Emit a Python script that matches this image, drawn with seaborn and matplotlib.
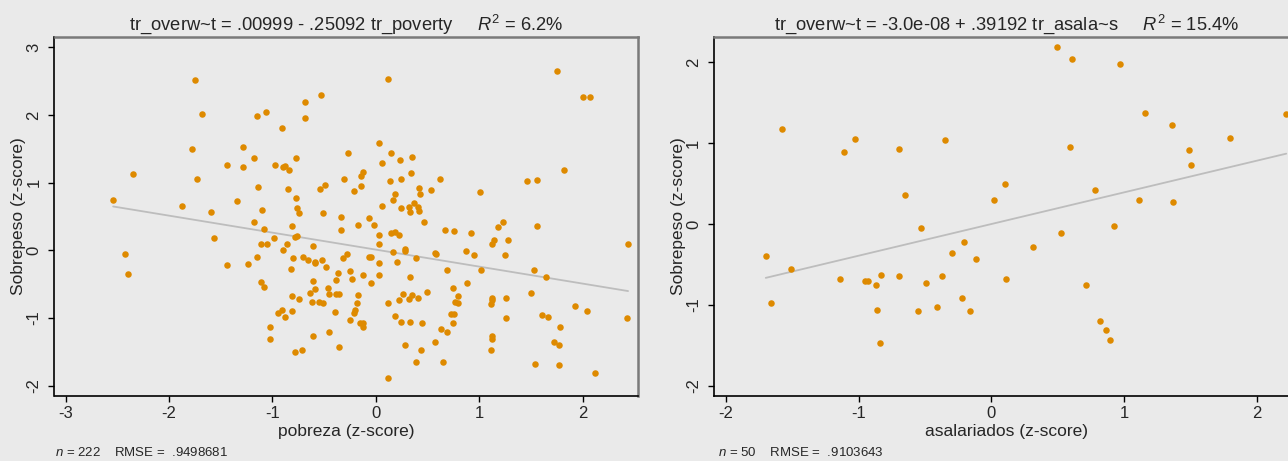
import matplotlib
matplotlib.use("Agg")
import matplotlib.pyplot as plt
import seaborn as sns
import pandas as pd
import numpy as np

# ---------------- data ----------------
pov_x = [-1.75, -0.53, -0.68, -1.68, -1.15, -1.06, -0.68, -0.91, -1.78, -1.28,
         -0.27, -1.18, -0.77, -2.35, -1.44, -1.28, -0.97, -0.90, -0.88, -0.84,
         -1.73, -0.31, -1.14, -0.85, -0.54, -0.49, -0.21, -2.54, -0.77,
         0.12, 1.75, 2.00, 2.07, 0.03, 0.15, 0.23, 0.35, 0.06, -0.12,
         -0.14, 0.34, 0.14, 0.24, 0.62, -0.14, 0.42, 0.53, 0.43, 0.19,
         0.17, 1.01, 1.46, 1.56, 1.82,
         -1.34, -1.87, -0.76, -1.10, -1.59, -0.74, -0.51, -0.34, -0.34, -1.18,
         -1.08, -0.81, -1.56, -0.98, -0.78, -0.76, -1.11, -1.05, -0.86, -0.61,
         -0.90, -0.32, -2.43, -1.15, -0.80, -0.70, -0.66, -0.59, -0.59, -0.52,
         -2.40, -1.44, -1.24, -0.82, -0.48, -0.37, -1.11, -1.08, -0.61, -0.38,
         -0.59, -0.46, -0.64, -0.45, -0.38, -0.36, -0.81, -0.74, -0.62, -0.55,
         -0.51, -0.95, -0.91, -0.88, -0.81, -0.39, -1.02, -1.02, -0.61, -0.45,
         -0.36, -0.78, -0.71,
         0.06, 0.24, 0.32, 0.41, 0.33, 0.42, 0.37, -0.07, -0.17, -0.02,
         0.47, 0.03, 0.15, 0.19, 0.22, 0.67, 0.76, 0.92, 1.18, 1.23,
         1.56, 0.03, 1.12, 1.14, 1.28, -0.28, -0.07, -0.05, 0.17, 0.28,
         0.28, 0.21, 0.03, 0.39, 0.57, 0.58, 0.87, 0.95, 1.25, 2.44,
         -0.25, -0.23, -0.12, 0.03, -0.05, 0.33, 0.69, 1.02, 0.88, 1.53,
         1.65, -0.17, -0.18, -0.20, -0.21, -0.25, -0.15, -0.12, -0.12, 0.26,
         0.35, 0.32, 0.22, 0.41, 0.50, 0.12, 0.19, 0.24, 0.33, 0.45,
         0.75, 0.80, 0.77, 0.80, 0.73, 0.76, 0.75, 0.63, 0.69, 1.12,
         1.12, 1.11, 1.26, 1.26, 1.12, 1.12, 1.11, 1.50, 1.61, 1.67,
         1.78, 1.93, 2.04, 2.43, 1.72, 1.77, 1.54, 1.77, 2.12, 0.28,
         0.44, 0.57, 0.39, 0.65, 0.12]
pov_y = [2.51, 2.29, 2.19, 2.02, 1.98, 2.04, 1.96, 1.81, 1.50, 1.52,
         1.43, 1.36, 1.36, 1.12, 1.26, 1.23, 1.26, 1.23, 1.24, 1.18,
         1.05, 1.06, 0.93, 0.91, 0.91, 0.97, 0.87, 0.75, 0.77,
         2.53, 2.65, 2.27, 2.27, 1.59, 1.43, 1.34, 1.38, 1.29, 1.16,
         1.09, 1.14, 1.03, 1.05, 1.05, 0.95, 0.92, 0.89, 0.83, 0.83,
         0.75, 0.86, 1.03, 1.04, 1.18,
         0.73, 0.66, 0.63, 0.60, 0.57, 0.55, 0.55, 0.49, 0.30, 0.42,
         0.31, 0.36, 0.18, 0.18, 0.19, 0.21, 0.10, 0.10, 0.10, 0.07,
         0.00, -0.12, -0.06, -0.10, -0.12, -0.10, -0.14, -0.17, -0.19, -0.14,
         -0.35, -0.22, -0.20, -0.28, -0.25, -0.34, -0.47, -0.54, -0.45, -0.44,
         -0.57, -0.55, -0.63, -0.65, -0.64, -0.65, -0.68, -0.72, -0.76, -0.76,
         -0.78, -0.92, -0.88, -0.98, -0.90, -0.91, -1.14, -1.31, -1.27, -1.20,
         -1.43, -1.50, -1.47,
         0.66, 0.63, 0.64, 0.64, 0.57, 0.58, 0.70, 0.47, 0.38, 0.38,
         0.42, 0.22, 0.26, 0.27, 0.23, 0.30, 0.29, 0.26, 0.34, 0.42,
         0.36, 0.09, 0.09, 0.15, 0.15, -0.05, -0.10, -0.10, -0.03, 0.02,
         -0.01, -0.18, -0.19, -0.11, -0.04, -0.05, -0.01, -0.07, -0.07, 0.09,
         -0.30, -0.43, -0.36, -0.37, -0.49, -0.39, -0.29, -0.29, -0.48, -0.29,
         -0.39, -0.66, -0.78, -0.88, -0.93, -1.03, -1.08, -1.07, -1.14, -0.64,
         -0.66, -0.72, -0.73, -0.70, -0.62, -0.78, -0.97, -1.06, -1.06, -1.08,
         -0.56, -0.68, -0.76, -0.78, -0.94, -0.94, -1.07, -1.17, -1.20, -0.70,
         -0.73, -0.79, -0.70, -1.00, -1.26, -1.31, -1.48, -0.63, -0.96, -0.98,
         -1.14, -0.82, -0.89, -1.00, -1.36, -1.40, -1.68, -1.70, -1.82, -1.40,
         -1.48, -1.36, -1.65, -1.65, -1.88]

asal_x = [-1.58, -1.03, -1.11, -0.70, -0.35, -0.65,
          0.49, 0.61, 0.97, 1.16, 1.36, 2.22, 1.80, 1.49, 1.50, 0.59,
          0.10, 0.02, 0.78, 1.11, 1.37,
          -0.53, -0.21, -0.30, -0.12, -1.70, -1.51, -1.14, -0.95, -0.93, -0.83,
          -0.87, -0.70, -0.49, -0.37, -0.22, -1.66, -0.86, -0.55, -0.41, -0.16,
          -0.84,
          0.92, 0.52, 0.31, 0.11, 0.71, 0.82, 0.86, 0.89]
asal_y = [1.18, 1.05, 0.89, 0.93, 1.04, 0.36,
          2.19, 2.04, 1.98, 1.37, 1.22, 1.36, 1.06, 0.91, 0.73, 0.95,
          0.49, 0.30, 0.42, 0.30, 0.27,
          -0.05, -0.22, -0.36, -0.43, -0.39, -0.56, -0.68, -0.70, -0.70, -0.63,
          -0.76, -0.64, -0.73, -0.64, -0.91, -0.98, -1.07, -1.08, -1.03, -1.08,
          -1.47,
          -0.02, -0.11, -0.28, -0.68, -0.75, -1.20, -1.31, -1.43]

left_intercept, left_slope = 0.00999, -0.25092
right_intercept, right_slope = -3.0e-08, 0.39192

left_title = r"tr_overw~t = .00999 - .25092 tr_poverty     $R^2$ = 6.2%"
right_title = r"tr_overw~t = -3.0e-08 + .39192 tr_asala~s     $R^2$ = 15.4%"
left_xlabel = "pobreza (z-score)"
right_xlabel = "asalariados (z-score)"
ylabel = "Sobrepeso (z-score)"
left_note = r"$n$ = 222    RMSE =  .9498681"
right_note = r"$n$ = 50    RMSE =  .9103643"
left_xticks = [-3, -2, -1, 0, 1, 2]
left_yticks = [-2, -1, 0, 1, 2, 3]
right_xticks = [-2, -1, 0, 1, 2]
right_yticks = [-2, -1, 0, 1, 2]

# ---------------- style ----------------
BG = "#EAEAEA"
DOT = "#DE8A00"
LINE = "#BDBDBD"
sns.set_theme(style="white")
plt.rcParams["font.family"] = ["Liberation Sans", "DejaVu Sans"]
plt.rcParams["mathtext.fontset"] = "custom"
plt.rcParams["mathtext.rm"] = "Liberation Sans"
plt.rcParams["mathtext.it"] = "Liberation Sans:italic"
plt.rcParams["mathtext.bf"] = "Liberation Sans:bold"

W, H = 1288, 461
fig = plt.figure(figsize=(W / 100, H / 100), dpi=100, facecolor=BG)


def px_axes(x0, y0, x1, y1):
    return fig.add_axes([x0 / W, 1 - y1 / H, (x1 - x0) / W, (y1 - y0) / H])


axL = px_axes(54.5, 36.7, 638.4, 395.7)
axR = px_axes(714.4, 36.7, 1298.3, 395.7)

dfL = pd.DataFrame({"x": pov_x, "y": pov_y})
dfR = pd.DataFrame({"x": asal_x, "y": asal_y})

panels = [
    (axL, dfL, left_intercept, left_slope, left_title, left_xlabel,
     left_xticks, left_yticks, (-3.107, 2.54), (-2.148, 3.155)),
    (axR, dfR, right_intercept, right_slope, right_title, right_xlabel,
     right_xticks, right_yticks, (-2.087, 2.311), (-2.124, 2.317)),
]

for ax, df, b0, b1, title, xlabel, xt, yt, xlim, ylim in panels:
    ax.set_facecolor(BG)
    xs = np.array([df["x"].min(), df["x"].max()])
    ax.plot(xs, b0 + b1 * xs, color=LINE, lw=1.3, zorder=1)
    sns.scatterplot(data=df, x="x", y="y", ax=ax, color=DOT, s=22,
                    linewidth=0, zorder=2)
    ax.set_xlim(*xlim)
    ax.set_ylim(*ylim)
    ax.set_xticks(xt)
    ax.set_yticks(yt)
    ax.set_xticklabels([str(v) for v in xt])
    ax.set_yticklabels([str(v) for v in yt])
    ax.tick_params(axis="both", direction="out", length=4.5, width=1,
                   color="black", labelsize=12,
                   bottom=True, left=True)
    ax.tick_params(axis="x", pad=3)
    ax.tick_params(axis="y", pad=5)
    for lab in ax.get_yticklabels():
        lab.set_rotation(90)
        lab.set_va("center")
    ax.set_xlabel(xlabel, fontsize=12.5, labelpad=2)
    ax.set_ylabel(ylabel, fontsize=12.5)
    ax.yaxis.set_label_coords(-0.049, 0.5)
    ax.set_title(title, fontsize=13.2, pad=5)
    for side in ["left", "bottom"]:
        ax.spines[side].set_color("black")
        ax.spines[side].set_linewidth(1.2)
    for side in ["top", "right"]:
        ax.spines[side].set_color("#7A7A7A")
        ax.spines[side].set_linewidth(1.8)
    ax.grid(False)

fig.text(55 / W, 1 - 452 / H, left_note, fontsize=9.5, va="center", ha="left")
fig.text(718 / W, 1 - 452 / H, right_note, fontsize=9.5, va="center", ha="left")

fig.savefig("out.png", dpi=100, facecolor=BG)
